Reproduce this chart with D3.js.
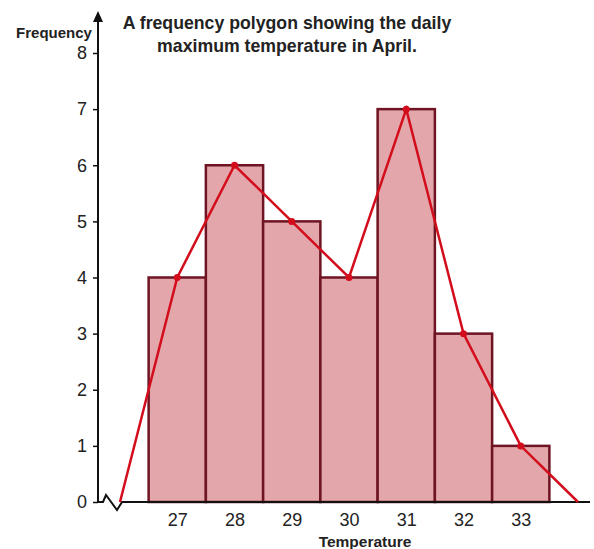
<!DOCTYPE html>
<html>
<head>
<meta charset="utf-8">
<title>Frequency polygon</title>
<script src="https://d3js.org/d3.v7.min.js"></script>
<style>
  body { margin: 0; background: #fff; }
  svg text { font-family: "Liberation Sans", Arial, sans-serif; fill: #222; }
</style>
</head>
<body>
<div id="chart"></div>
<script>
// data
const temps = [27, 28, 29, 30, 31, 32, 33]
const freqs = [4, 6, 5, 4, 7, 3, 1]
// polygon closes at zero on both ends
const polyTemps = [26, 27, 28, 29, 30, 31, 32, 33, 34]
const polyFreqs = [0, 4, 6, 5, 4, 7, 3, 1, 0]
const yTicks = [0, 1, 2, 3, 4, 5, 6, 7, 8]
const titleLines = ["A frequency polygon showing the daily", "maximum temperature in April."]

const w = 594
const h = 549
const axisX = 98
const axisY = 502

const svg = d3.select("#chart").append("svg")
    .attr("width", w)
    .attr("height", h)

const x = d3.scaleLinear().domain([26, 34]).range([120, 578])
const y = d3.scaleLinear().domain([0, 8]).range([axisY, 53])

// bars
svg.selectAll("rect.bar")
    .data(temps)
    .enter()
    .append("rect")
    .attr("class", "bar")
    .attr("x", d => x(d - 0.5))
    .attr("y", (d, i) => y(freqs[i]))
    .attr("width", x(1) - x(0))
    .attr("height", (d, i) => y(0) - y(freqs[i]))
    .attr("fill", "#e3a7ab")
    .attr("stroke", "#6e1422")
    .attr("stroke-width", 2.5)

// x axis with break
const brk = [[axisX, axisY], [103, axisY], [106, 495], [117, 510], [122, axisY], [590, axisY]]
svg.append("path")
    .attr("d", d3.line()(brk))
    .attr("fill", "none")
    .attr("stroke", "#111")
    .attr("stroke-width", 2)

// polygon
svg.append("path")
    .datum(polyTemps.map((t, i) => [x(t), y(polyFreqs[i])]))
    .attr("d", d3.line())
    .attr("fill", "none")
    .attr("stroke", "#d30d1c")
    .attr("stroke-width", 2.5)

svg.selectAll("circle.pt")
    .data(temps)
    .enter()
    .append("circle")
    .attr("class", "pt")
    .attr("cx", d => x(d))
    .attr("cy", (d, i) => y(freqs[i]))
    .attr("r", 3.5)
    .attr("fill", "#d30d1c")

// y axis
const yAxis = d3.axisLeft(y).tickValues(yTicks).tickSize(5).tickPadding(6)
const gy = svg.append("g")
    .attr("transform", `translate(${axisX},0)`)
    .call(yAxis)
gy.select(".domain").remove()
gy.selectAll(".tick line").attr("stroke", "#111").attr("stroke-width", 1.5)
gy.selectAll(".tick text")
    .style("font-size", "18px")
    .style("font-family", "Liberation Sans, Arial, sans-serif")
    .attr("fill", "#222")

svg.append("line")
    .attr("x1", axisX).attr("x2", axisX)
    .attr("y1", axisY).attr("y2", 20)
    .attr("stroke", "#111")
    .attr("stroke-width", 2)
svg.append("path")
    .attr("d", `M${axisX},11 L${axisX - 5},22 L${axisX + 5},22 Z`)
    .attr("fill", "#111")

// x labels
const xAxis = d3.axisBottom(x).tickValues(temps).tickSize(0).tickPadding(11)
const gx = svg.append("g")
    .attr("transform", `translate(0,${axisY})`)
    .call(xAxis)
gx.select(".domain").remove()
gx.selectAll(".tick text")
    .style("font-size", "18px")
    .style("font-family", "Liberation Sans, Arial, sans-serif")
    .attr("fill", "#222")

// labels
svg.append("text")
    .attr("x", 54).attr("y", 38)
    .attr("text-anchor", "middle")
    .style("font-size", "15px")
    .style("font-weight", "bold")
    .text("Frequency")

svg.append("text")
    .attr("x", 365).attr("y", 547)
    .attr("text-anchor", "middle")
    .style("font-size", "15.5px")
    .style("font-weight", "bold")
    .text("Temperature")

svg.selectAll("text.title")
    .data(titleLines)
    .enter()
    .append("text")
    .attr("class", "title")
    .attr("x", 287)
    .attr("y", (d, i) => 29 + i * 23)
    .attr("text-anchor", "middle")
    .style("font-size", "17.7px")
    .style("font-weight", "bold")
    .text(d => d)
</script>
</body>
</html>
